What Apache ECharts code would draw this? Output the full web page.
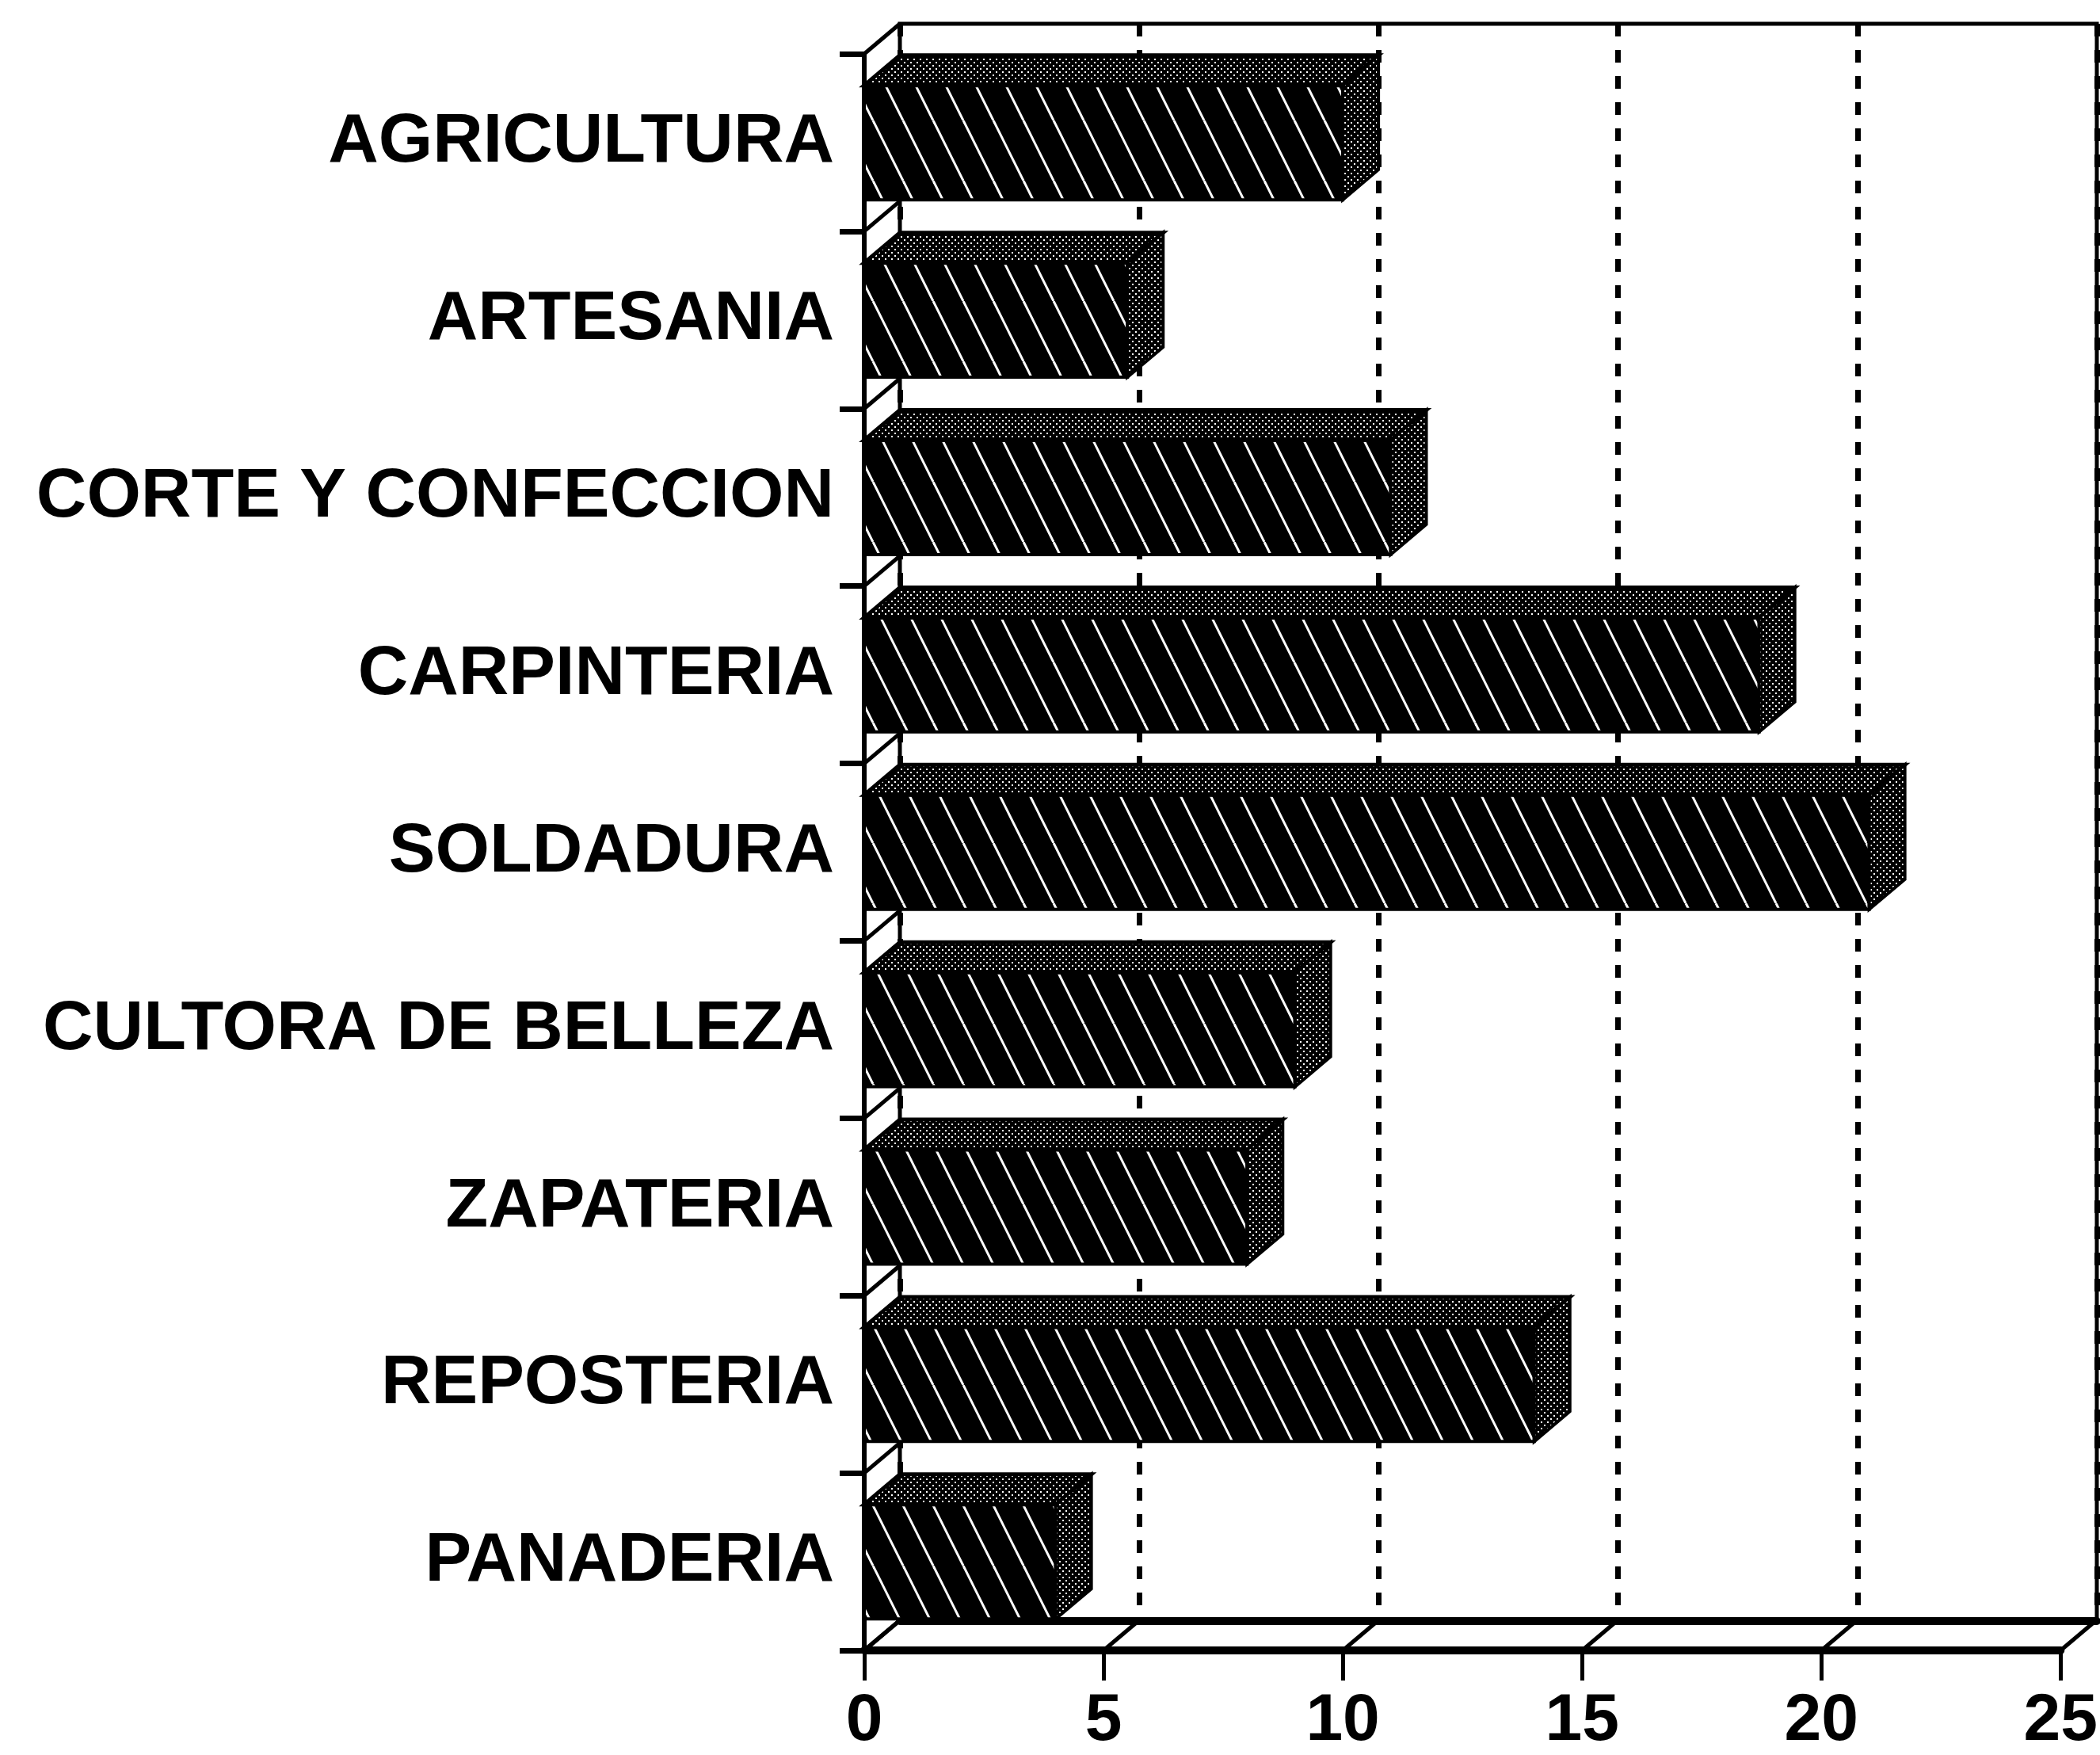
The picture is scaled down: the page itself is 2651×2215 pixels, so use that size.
<!DOCTYPE html>
<html><head><meta charset="utf-8">
<script src="https://cdn.jsdelivr.net/npm/echarts@6/dist/echarts.min.js"></script>
<style>html,body{margin:0;padding:0;background:#fff}#c{width:2651px;height:2215px}</style>
</head><body><div id="c"></div>
<script>
const categories = ['AGRICULTURA','ARTESANIA','CORTE Y CONFECCION','CARPINTERIA','SOLDADURA','CULTORA DE BELLEZA','ZAPATERIA','REPOSTERIA','PANADERIA'];
const values = [10, 5.5, 11, 18.7, 21, 9, 8, 14, 4];
const xTicks = [0, 5, 10, 15, 20, 25];

const DX = 45, DY = 38;
const FONT = '"Liberation Sans", Arial, Helvetica, sans-serif';

function makeHatch() {
  const c = document.createElement('canvas'); c.width = 38; c.height = 76;
  const g = c.getContext('2d');
  g.fillStyle = '#000'; g.fillRect(0, 0, 38, 76);
  g.strokeStyle = '#fff'; g.lineWidth = 3;
  for (const o of [-38, 0, 38]) { g.beginPath(); g.moveTo(o, 0); g.lineTo(o + 38, 76); g.stroke(); }
  return c;
}
function makeStipple() {
  const c = document.createElement('canvas'); c.width = 8; c.height = 8;
  const g = c.getContext('2d');
  g.fillStyle = '#000'; g.fillRect(0, 0, 8, 8);
  g.fillStyle = '#fff'; g.fillRect(1, 2, 2, 2); g.fillRect(5, 6, 2, 2);
  return c;
}
const hatch = makeHatch();
const stip = makeStipple();

const chart = echarts.init(document.getElementById('c'), null, {renderer: 'canvas'});
chart.setOption({
  backgroundColor: '#fff',
  animation: false,
  grid: [
    {left: 1091, top: 68, right: 43, bottom: 131, containLabel: false},
    {left: 1136, top: 30, right: 4, bottom: 169, show: true, borderColor: '#000', borderWidth: 5, backgroundColor: 'transparent', containLabel: false}
  ],
  xAxis: [
    {gridIndex: 0, type: 'value', min: 0, max: 25, interval: 5,
     axisLine: {show: true, lineStyle: {color: '#000', width: 10}},
     axisTick: {show: true, inside: false, length: 38, lineStyle: {color: '#000', width: 5}},
     axisLabel: {show: true, margin: 48, color: '#000', fontSize: 84, fontWeight: 'bold', fontFamily: FONT},
     splitLine: {show: false}},
    {gridIndex: 1, type: 'value', min: 0, max: 25, interval: 5,
     axisLine: {show: true, lineStyle: {color: '#000', width: 10}},
     axisTick: {show: false}, axisLabel: {show: false},
     splitLine: {show: true, lineStyle: {color: '#000', width: 7, type: [16, 17]}}}
  ],
  yAxis: [
    {gridIndex: 0, type: 'category', data: categories, inverse: true,
     axisLine: {show: true, lineStyle: {color: '#000', width: 6}},
     axisTick: {show: true, inside: false, length: 31, lineStyle: {color: '#000', width: 7}},
     axisLabel: {show: true, margin: 38, color: '#000', fontSize: 88, fontWeight: 'bold', fontFamily: FONT},
     splitLine: {show: false}},
    {gridIndex: 1, type: 'category', data: categories, inverse: true,
     axisLine: {show: false}, axisTick: {show: false}, axisLabel: {show: false}, splitLine: {show: false}}
  ],
  series: [
    {
      type: 'custom', xAxisIndex: 0, yAxisIndex: 0, z: 3,
      data: categories.map((c, i) => [0, i]),
      encode: {x: 0, y: 1},
      renderItem(params, api) {
        const ci = api.value(1);
        const cs = params.coordSys;
        const band = api.size([0, 1])[1];
        const x0 = cs.x;
        const yc = api.coord([0, ci])[1];
        const children = [];
        const yb = yc - band / 2;
        children.push({type: 'line', shape: {x1: x0, y1: yb, x2: x0 + DX, y2: yb - DY}, style: {stroke: '#000', lineWidth: 5}});
        if (ci === categories.length - 1) {
          const yb2 = yc + band / 2;
          children.push({type: 'line', shape: {x1: x0, y1: yb2, x2: x0 + DX, y2: yb2 - DY}, style: {stroke: '#000', lineWidth: 5}});
        }
        return {type: 'group', children};
      }
    },
    {
      type: 'custom', xAxisIndex: 0, yAxisIndex: 0, z: 3,
      data: xTicks.map(t => [t, 0]),
      encode: {x: 0, y: 1},
      renderItem(params, api) {
        const x = api.coord([api.value(0), 0])[0];
        const yb = params.coordSys.y + params.coordSys.height;
        return {type: 'line', shape: {x1: x, y1: yb, x2: x + DX, y2: yb - DY}, style: {stroke: '#000', lineWidth: 5}};
      }
    },
    {
      type: 'custom', xAxisIndex: 0, yAxisIndex: 0, z: 5,
      data: values.map((v, i) => [v, i]),
      encode: {x: 0, y: 1},
      renderItem(params, api) {
        const v = api.value(0), ci = api.value(1);
        const p0 = api.coord([0, ci]);
        const p1 = api.coord([v, ci]);
        const band = api.size([0, 1])[1];
        const h = band * 0.645;
        const x0 = p0[0], x1 = p1[0];
        const yT = p0[1] - h / 2, yB = p0[1] + h / 2;
        return {type: 'group', children: [
          {type: 'rect', shape: {x: x0, y: yT, width: x1 - x0, height: h},
           style: {fill: {image: hatch, repeat: 'repeat'}, stroke: '#000', lineWidth: 4}},
          {type: 'polygon', shape: {points: [[x0, yT], [x1, yT], [x1 + DX, yT - DY], [x0 + DX, yT - DY]]},
           style: {fill: {image: stip, repeat: 'repeat'}, stroke: '#000', lineWidth: 5}},
          {type: 'polygon', shape: {points: [[x1, yT], [x1 + DX, yT - DY], [x1 + DX, yB - DY], [x1, yB]]},
           style: {fill: {image: stip, repeat: 'repeat'}, stroke: '#000', lineWidth: 4}}
        ]};
      }
    }
  ]
});
</script></body></html>
